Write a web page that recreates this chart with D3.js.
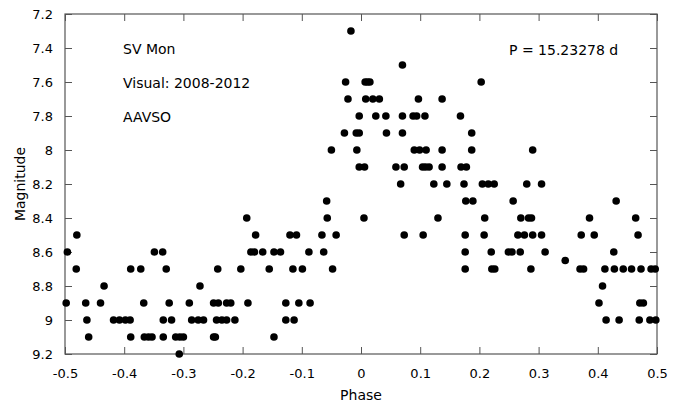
<!DOCTYPE html>
<html>
<head>
<meta charset="utf-8">
<script src="https://cdn.jsdelivr.net/npm/d3@7"></script>
<style>
  html, body { margin: 0; padding: 0; background: #fff; }
  svg { display: block; }
  text { font-family: "DejaVu Sans", sans-serif; fill: #000; }
</style>
</head>
<body>
<svg id="chart" width="678" height="407"></svg>
<script>
// ---- data ----
const phases = [
  -0.480,-0.496,-0.481,-0.498,-0.465,-0.463,-0.460,-0.434,-0.440,-0.418,
  -0.408,-0.398,-0.390,-0.389,-0.389,-0.372,-0.367,-0.366,-0.359,-0.353,
  -0.349,-0.335,-0.329,-0.324,-0.334,-0.320,-0.334,-0.313,-0.306,-0.300,
  -0.307,-0.290,-0.286,-0.272,
  -0.058,-0.193,-0.057,-0.178,-0.120,-0.109,-0.066,-0.042,-0.186,-0.180,
  -0.166,-0.147,-0.136,-0.088,-0.063,-0.242,-0.203,-0.155,-0.115,-0.099,
  -0.048,-0.249,-0.241,-0.227,-0.220,-0.191,-0.127,-0.105,-0.086,-0.275,
  -0.266,-0.244,-0.235,-0.227,-0.213,-0.127,-0.113,-0.249,-0.246,-0.147,
  -0.017,0.070,-0.026,0.007,0.011,0.015,0.203,-0.022,0.008,0.020,
  0.031,0.097,0.137,-0.003,0.025,0.042,0.070,0.088,0.094,0.108,
  0.168,-0.028,-0.008,-0.003,0.043,0.070,0.187,-0.050,-0.007,0.090,
  0.099,0.110,0.137,0.187,-0.003,0.006,0.059,0.073,0.104,0.109,
  0.115,0.137,0.169,0.178,0.067,0.123,0.145,0.174,0.205,0.215,
  0.225,0.177,0.189,0.005,0.130,0.209,0.073,0.105,0.176,0.208,
  0.176,0.220,0.176,0.221,0.226,
  0.290,0.280,0.305,0.257,0.431,0.270,0.283,0.288,0.386,0.464,
  0.265,0.276,0.290,0.305,0.372,0.394,0.468,0.249,0.255,0.269,
  0.311,0.427,0.345,0.287,0.370,0.376,0.412,0.428,0.443,0.457,
  0.473,0.490,0.497,0.408,0.402,0.471,0.477,0.414,0.436,0.470,
  0.488,0.498
];
const magnitudes = [
  8.5,8.6,8.7,8.9,8.9,9.0,9.1,8.8,8.9,9.0,
  9.0,9.0,9.0,8.7,9.1,8.7,8.9,9.1,9.1,9.1,
  8.6,8.6,8.7,8.9,9.0,9.0,9.1,9.1,9.1,9.1,
  9.2,8.9,9.0,8.8,
  8.3,8.4,8.4,8.5,8.5,8.5,8.5,8.5,8.6,8.6,
  8.6,8.6,8.6,8.6,8.6,8.7,8.7,8.7,8.7,8.7,
  8.7,8.9,8.9,8.9,8.9,8.9,8.9,8.9,8.9,9.0,
  9.0,9.0,9.0,9.0,9.0,9.0,9.0,9.1,9.1,9.1,
  7.3,7.5,7.6,7.6,7.6,7.6,7.6,7.7,7.7,7.7,
  7.7,7.7,7.7,7.8,7.8,7.8,7.8,7.8,7.8,7.8,
  7.8,7.9,7.9,7.9,7.9,7.9,7.9,8.0,8.0,8.0,
  8.0,8.0,8.0,8.0,8.1,8.1,8.1,8.1,8.1,8.1,
  8.1,8.1,8.1,8.1,8.2,8.2,8.2,8.2,8.2,8.2,
  8.2,8.3,8.3,8.4,8.4,8.4,8.5,8.5,8.5,8.5,
  8.6,8.6,8.7,8.7,8.7,
  8.0,8.2,8.2,8.3,8.3,8.4,8.4,8.4,8.4,8.4,
  8.5,8.5,8.5,8.5,8.5,8.5,8.5,8.6,8.6,8.6,
  8.6,8.6,8.65,8.7,8.7,8.7,8.7,8.7,8.7,8.7,
  8.7,8.7,8.7,8.8,8.9,8.9,8.9,9.0,9.0,9.0,
  9.0,9.0
];
const xTicks = [-0.5,-0.4,-0.3,-0.2,-0.1,0,0.1,0.2,0.3,0.4,0.5];
const yTicks = [7.2,7.4,7.6,7.8,8.0,8.2,8.4,8.6,8.8,9.0,9.2];
const annotationsLeft = ["SV Mon", "Visual: 2008-2012", "AAVSO"];
const periodLabel = "P = 15.23278 d";
const xLabel = "Phase";
const yLabel = "Magnitude";

// ---- layout ----
const W = 678, H = 407;
const m = {left: 65, right: 21, top: 14, bottom: 53};
const pw = W - m.left - m.right, ph = H - m.top - m.bottom;
const svg = d3.select("#chart");
const g = svg.append("g").attr("transform", `translate(${m.left},${m.top})`);

const x = d3.scaleLinear().domain([-0.5, 0.5]).range([0, pw]);
const y = d3.scaleLinear().domain([7.2, 9.2]).range([0, ph]);

const fmtX = d => d === 0 ? "0" : d3.format(".1f")(d).replace("\u2212", "-");
const fmtY = d => (Math.abs(d - Math.round(d)) < 1e-9) ? String(Math.round(d)) : d3.format(".1f")(d);
const tickLen = 7, frameColor = "#555";

const axBottom = g.append("g").attr("transform", `translate(0,${ph})`)
  .call(d3.axisBottom(x).tickValues(xTicks).tickSizeInner(-tickLen).tickSizeOuter(0).tickPadding(15).tickFormat(fmtX));
const axTop = g.append("g")
  .call(d3.axisTop(x).tickValues(xTicks).tickSizeInner(-tickLen).tickSizeOuter(0).tickFormat(""));
const axLeft = g.append("g")
  .call(d3.axisLeft(y).tickValues(yTicks).tickSizeInner(-tickLen).tickSizeOuter(0).tickPadding(12).tickFormat(fmtY));
const axRight = g.append("g").attr("transform", `translate(${pw},0)`)
  .call(d3.axisRight(y).tickValues(yTicks).tickSizeInner(-tickLen).tickSizeOuter(0).tickFormat(""));

[axBottom, axTop, axLeft, axRight].forEach(a => {
  a.selectAll("path.domain").remove();
  a.selectAll("line").attr("stroke", frameColor).attr("stroke-width", 1);
  a.selectAll("text").attr("font-family", "DejaVu Sans, sans-serif").attr("font-size", 13).attr("fill", "#000");
});

g.append("rect").attr("x", 0).attr("y", 0).attr("width", pw).attr("height", ph)
  .attr("fill", "none").attr("stroke", frameColor).attr("stroke-width", 1.2);

const pts = phases.map((p, i) => ({p, mag: magnitudes[i]}));
g.append("g").selectAll("circle").data(pts).join("circle")
  .attr("cx", d => x(d.p)).attr("cy", d => y(d.mag)).attr("r", 3.8).attr("fill", "#000");

g.append("g").selectAll("text").data(annotationsLeft).join("text")
  .attr("x", 58).attr("y", (d, i) => 40 + i * 34)
  .attr("font-size", 14).text(d => d);
g.append("text").attr("x", 444).attr("y", 41).attr("font-size", 14).text(periodLabel);

svg.append("text").attr("x", m.left + pw / 2).attr("y", 400)
  .attr("text-anchor", "middle").attr("font-size", 14).text(xLabel);
svg.append("text").attr("transform", `translate(25,${m.top + ph / 2}) rotate(-90)`)
  .attr("text-anchor", "middle").attr("font-size", 14).text(yLabel);
</script>
</body>
</html>
